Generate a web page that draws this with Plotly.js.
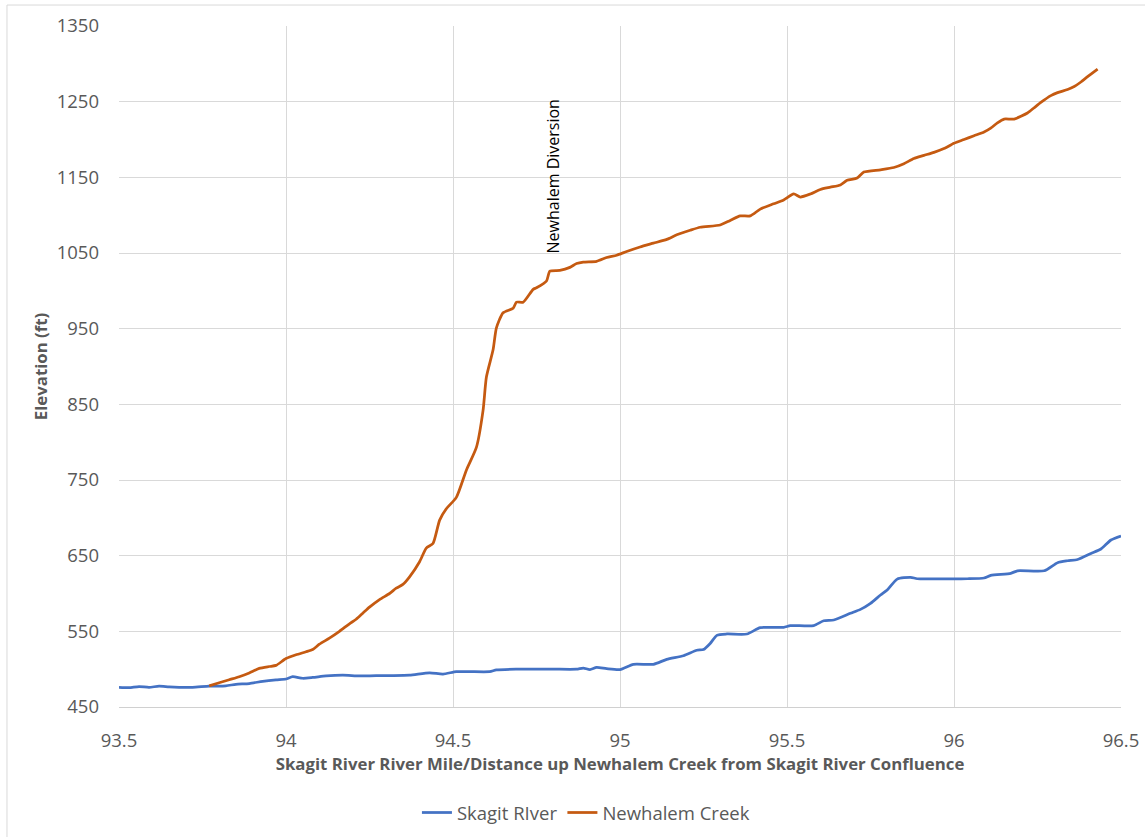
<!DOCTYPE html>
<html>
<head>
<meta charset="utf-8">
<script src="https://cdn.plot.ly/plotly-3.0.1.min.js"></script>
<style>
html,body{margin:0;padding:0;background:#fff;}
#chart{width:1145px;height:837px;}
</style>
</head>
<body>
<div id="chart"></div>
<script>
const skagitX = [93.50,93.53,93.56,93.59,93.62,93.65,93.68,93.72,93.77,93.82,93.85,93.89,93.93,93.97,94.00,94.02,94.05,94.08,94.12,94.17,94.22,94.27,94.32,94.37,94.43,94.47,94.51,94.55,94.61,94.63,94.69,94.80,94.87,94.89,94.91,94.93,94.96,95.00,95.04,95.10,95.14,95.19,95.23,95.25,95.27,95.29,95.32,95.38,95.42,95.49,95.51,95.58,95.61,95.64,95.69,95.72,95.75,95.78,95.80,95.83,95.87,95.89,95.98,96.04,96.09,96.11,96.17,96.19,96.27,96.31,96.34,96.37,96.41,96.44,96.47,96.50];
const skagitY = [476,475.5,477,476,477.5,476.5,476,476,477.5,478,480,481,484,486,487,490,488,489,491,492,491,491.5,491.5,492,495,493.6,496.7,496.7,496.7,499,500,500,500,501.5,499.5,502.4,500.6,499.4,506.4,506.4,513,517.8,525,526,534,544.7,546.5,546.5,554.8,555.3,557.5,557.5,564,565,573.8,579,587,598,604.6,619,621.4,619.5,619.5,619.5,620.5,624,626.7,630,630,640.7,643.3,645,653,658.8,670.7,676];

const creekX = [93.77,93.80,93.83,93.86,93.89,93.92,93.95,93.97,94.00,94.03,94.06,94.08,94.10,94.13,94.16,94.19,94.21,94.23,94.25,94.28,94.31,94.33,94.35,94.37,94.40,94.42,94.44,94.46,94.48,94.51,94.54,94.57,94.59,94.60,94.62,94.63,94.65,94.68,94.69,94.71,94.74,94.75,94.78,94.79,94.82,94.85,94.87,94.89,94.93,94.96,94.99,95.02,95.06,95.10,95.14,95.17,95.21,95.24,95.30,95.33,95.36,95.39,95.42,95.46,95.49,95.52,95.54,95.57,95.60,95.63,95.66,95.68,95.71,95.73,95.78,95.82,95.85,95.88,95.91,95.94,95.97,96.00,96.03,96.06,96.09,96.11,96.13,96.15,96.18,96.22,96.24,96.26,96.29,96.31,96.34,96.36,96.38,96.40,96.43];
const creekY = [478,482,486,490,495,501,503.5,505,514,519,523,526,533,541,550,560,566,574,582,592,600,607,612,622,642,660,666,697,712,727,763,793,842,886,922,951,971,977,985,985,1002,1004,1013,1026,1027,1031,1036,1038,1039,1044,1047,1052,1058,1063,1068,1074,1080,1084,1087,1093,1099,1099,1108,1115,1120,1128,1124,1128,1134,1137,1140,1146,1149,1157,1160,1163,1168,1175,1179,1183,1188,1195,1200,1205,1210,1215,1222,1227,1227,1235,1242,1249,1258,1262,1266,1270,1276,1283,1293];

const seriesNames = ["Skagit RIver", "Newhalem Creek"];
const annotationText = "Newhalem Diversion";
const annotationX = 94.80;
const annotationY = 1047;
const xTitle = "Skagit River River Mile/Distance up Newhalem Creek from Skagit River Confluence";
const yTitle = "Elevation (ft)";

const FONT = "Open Sans, Noto Sans, sans-serif";
const GREY = "#595959";

const traces = [
  {x: skagitX, y: skagitY, name: seriesNames[0], type: "scatter", mode: "lines",
   line: {color: "#4472C4", width: 2.75, shape: "spline", smoothing: 0.6}},
  {x: creekX, y: creekY, name: seriesNames[1], type: "scatter", mode: "lines",
   line: {color: "#C55A11", width: 2.75, shape: "spline", smoothing: 0.6}}
];

const layout = {
  width: 1145, height: 837,
  margin: {l: 119, r: 24, t: 26, b: 130},
  paper_bgcolor: "#fff", plot_bgcolor: "#fff",
  font: {family: FONT, color: GREY, size: 16},
  showlegend: true,
  legend: {orientation: "h", x: 0.466, xanchor: "center", yref: "container", y: 0.0287, yanchor: "middle",
           font: {family: FONT, size: 18.5, color: GREY}, itemwidth: 30, tracegroupgap: 0},
  xaxis: {
    range: [93.5, 96.5], tick0: 93.5, dtick: 0.5, showgrid: true, gridcolor: "#d9d9d9", gridwidth: 1,
    zeroline: false, showline: true, linecolor: "#d0d0d0", linewidth: 1, ticks: "",
    tickfont: {family: FONT, size: 18.5, color: GREY}, ticklabelstandoff: 17,
    title: {text: xTitle, font: {family: FONT, size: 16.8, color: GREY, weight: "bold"}, standoff: 6},
    fixedrange: true
  },
  yaxis: {
    range: [450, 1350], tick0: 450, dtick: 100, showgrid: true, gridcolor: "#d9d9d9", gridwidth: 1,
    zeroline: false, showline: false, ticks: "",
    tickfont: {family: FONT, size: 18.5, color: GREY}, ticklabelstandoff: 19,
    title: {text: yTitle, font: {family: FONT, size: 16.8, color: GREY, weight: "bold"}, standoff: 4},
    fixedrange: true
  },
  annotations: [{
    x: annotationX, y: annotationY, xref: "x", yref: "y", text: annotationText,
    showarrow: false, textangle: -90, xanchor: "center", yanchor: "bottom",
    font: {family: FONT, size: 16, color: "#000"}
  }],
  shapes: [{
    type: "rect", xref: "paper", yref: "paper",
    x0: -0.1118, x1: 1.029, y0: -0.2026, y1: 1.0308,
    line: {color: "#d9d9d9", width: 1}, fillcolor: "rgba(0,0,0,0)", layer: "below"
  }]
};

Plotly.newPlot("chart", traces, layout, {displayModeBar: false, staticPlot: true});
</script>
</body>
</html>
